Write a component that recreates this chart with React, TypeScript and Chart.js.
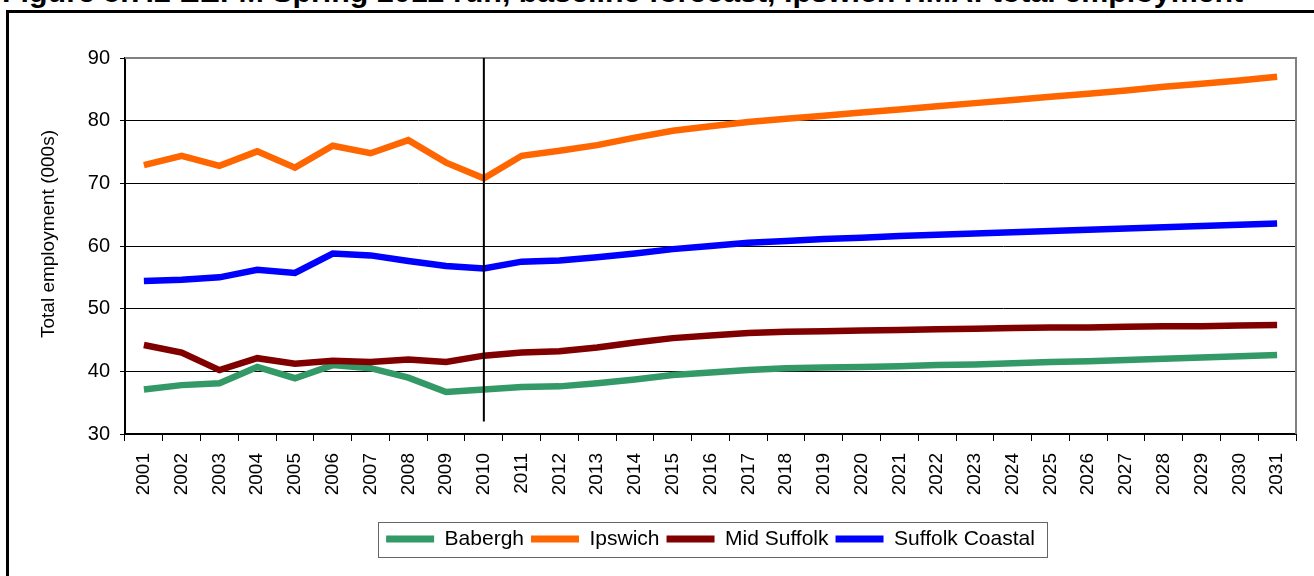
import React, { useEffect, useRef } from 'react';
import { Chart, registerables } from 'chart.js';

Chart.register(...registerables);

const years = [
  '2001', '2002', '2003', '2004', '2005', '2006', '2007', '2008', '2009', '2010',
  '2011', '2012', '2013', '2014', '2015', '2016', '2017', '2018', '2019', '2020',
  '2021', '2022', '2023', '2024', '2025', '2026', '2027', '2028', '2029', '2030', '2031',
];

const babergh = [
  37.1, 37.8, 38.1, 40.7, 38.9, 41.0, 40.5, 39.0, 36.7, 37.1,
  37.5, 37.6, 38.1, 38.7, 39.4, 39.8, 40.2, 40.5, 40.6, 40.7,
  40.8, 41.0, 41.1, 41.3, 41.5, 41.6, 41.8, 42.0, 42.2, 42.4, 42.6,
];

const ipswich = [
  72.9, 74.4, 72.8, 75.1, 72.5, 76.0, 74.8, 76.9, 73.3, 70.8,
  74.4, 75.2, 76.1, 77.3, 78.4, 79.1, 79.8, 80.3, 80.8, 81.3,
  81.8, 82.3, 82.8, 83.3, 83.8, 84.3, 84.8, 85.4, 85.9, 86.4, 87.0,
];

const midSuffolk = [
  44.2, 43.0, 40.2, 42.1, 41.2, 41.7, 41.5, 41.9, 41.5, 42.5,
  43.0, 43.2, 43.8, 44.6, 45.3, 45.7, 46.1, 46.3, 46.4, 46.5,
  46.6, 46.7, 46.8, 46.9, 47.0, 47.0, 47.1, 47.2, 47.2, 47.3, 47.4,
];

const suffolkCoastal = [
  54.4, 54.6, 55.0, 56.2, 55.7, 58.8, 58.5, 57.6, 56.8, 56.4,
  57.5, 57.7, 58.2, 58.8, 59.5, 60.0, 60.5, 60.8, 61.1, 61.3,
  61.6, 61.8, 62.0, 62.2, 62.4, 62.6, 62.8, 63.0, 63.2, 63.4, 63.6,
];

const seriesNames = ['Babergh', 'Ipswich', 'Mid Suffolk', 'Suffolk Coastal'];
const seriesColors = ['#339966', '#FF6600', '#800000', '#0000FF'];
const seriesValues = [babergh, ipswich, midSuffolk, suffolkCoastal];

const yMin = 30;
const yMax = 90;
const yStep = 10;
const yTitle = 'Total employment (000s)';
const figureTitle =
  'Figure 5.7.2 EEFM Spring 2012 run, baseline forecast, Ipswich HMA: total employment';

const dividerYear = '2010';
const dividerTop = 90;
const dividerBottom = 32;

const FONT = '"Liberation Sans", Arial, Helvetica, sans-serif';

const decorPlugin = {
  id: 'decor',
  beforeDatasetsDraw(chart: any) {
    const { ctx, chartArea } = chart;
    const { left, right, top, bottom } = chartArea;
    ctx.save();
    ctx.strokeStyle = '#808080';
    ctx.lineWidth = 2;
    ctx.beginPath();
    ctx.moveTo(left, top);
    ctx.lineTo(right, top);
    ctx.lineTo(right, bottom);
    ctx.stroke();
    ctx.restore();
  },
  afterDatasetsDraw(chart: any) {
    const { ctx } = chart;
    const xs = chart.scales.x;
    const ys = chart.scales.y;
    const x = xs.getPixelForValue(years.indexOf(dividerYear));
    const y1 = ys.getPixelForValue(dividerTop);
    const y2 = ys.getPixelForValue(dividerBottom);
    ctx.save();
    ctx.strokeStyle = '#000';
    ctx.lineWidth = 2;
    ctx.beginPath();
    ctx.moveTo(x, y1);
    ctx.lineTo(x, y2);
    ctx.stroke();
    ctx.restore();
  },
  afterDraw(chart: any) {
    const { ctx } = chart;
    const lg = chart.legend;
    if (lg && lg.legendHitBoxes && lg.legendHitBoxes.length) {
      const hb = lg.legendHitBoxes;
      let l = Infinity, r = -Infinity, t = Infinity, b = -Infinity;
      hb.forEach((h: any) => {
        l = Math.min(l, h.left);
        r = Math.max(r, h.left + h.width);
        t = Math.min(t, h.top);
        b = Math.max(b, h.top + h.height);
      });
      ctx.save();
      ctx.strokeStyle = '#666';
      ctx.lineWidth = 1;
      ctx.strokeRect(Math.round(l - 8) + 0.5, Math.round(t - 7) + 0.5, Math.round(r - l + 20), Math.round(b - t + 14));
      ctx.restore();
    }
    const ys = chart.scales.y;
    ctx.save();
    ctx.fillStyle = '#000';
    ctx.font = `19px ${FONT}`;
    ctx.textAlign = 'center';
    ctx.textBaseline = 'middle';
    ctx.translate(49, (ys.top + ys.bottom) / 2 - 12);
    ctx.rotate(-Math.PI / 2);
    ctx.fillText(yTitle, 0, 0);
    ctx.restore();
  },
};

export default function App() {
  const canvasRef = useRef<HTMLCanvasElement | null>(null);

  useEffect(() => {
    if (!canvasRef.current) return;
    Chart.defaults.font.family = FONT;
    Chart.defaults.color = '#000';
    const chart = new Chart(canvasRef.current, {
      type: 'line',
      data: {
        labels: years,
        datasets: seriesValues.map((vals, i) => ({
          label: seriesNames[i],
          data: vals,
          borderColor: seriesColors[i],
          backgroundColor: seriesColors[i],
          borderWidth: 6.5,
          pointRadius: 0,
          pointHoverRadius: 0,
          tension: 0,
          fill: false,
          borderJoinStyle: 'miter' as const,
          borderCapStyle: 'butt' as const,
          order: seriesNames.length - i,
        })),
      },
      options: {
        responsive: false,
        animation: false,
        layout: { padding: { top: 58, left: 0, right: 18, bottom: 16.5 } },
        plugins: {
          title: { display: false },
          tooltip: { enabled: false },
          legend: {
            position: 'bottom',
            fullSize: false,
            labels: {
              boxWidth: 48,
              boxHeight: 7,
              padding: 7,
              color: '#000',
              font: { size: 21, family: FONT },
              generateLabels: (c: any) =>
                c.data.datasets.map((ds: any, i: number) => ({
                  text: ds.label,
                  fillStyle: ds.borderColor,
                  strokeStyle: ds.borderColor,
                  lineWidth: 0,
                  hidden: false,
                  datasetIndex: i,
                  fontColor: '#000',
                })),
            },
          },
        },
        scales: {
          x: {
            type: 'category',
            offset: true,
            grid: { offset: true, drawOnChartArea: false, tickLength: 7, color: '#000', lineWidth: 1 },
            border: { color: '#000', width: 2 },
            ticks: {
              autoSkip: false,
              minRotation: 90,
              maxRotation: 90,
              padding: 12,
              color: '#000',
              font: { size: 19, family: FONT },
            },
            afterFit: (s: any) => {
              s.height = 87.5;
            },
          },
          y: {
            min: yMin,
            max: yMax,
            ticks: { stepSize: yStep, padding: 10, color: '#000', font: { size: 20, family: FONT } },
            grid: { color: '#000', lineWidth: 1, tickLength: 5 },
            border: { color: '#000', width: 2 },
            afterFit: (s: any) => {
              s.width = 125;
            },
          },
        },
      },
      plugins: [decorPlugin],
    } as any);
    return () => chart.destroy();
  }, []);

  return (
    <div
      style={{
        position: 'fixed',
        left: 0,
        top: 0,
        width: 1314,
        height: 576,
        overflow: 'hidden',
        background: '#fff',
      }}
    >
      <div
        style={{
          position: 'absolute',
          left: 2,
          top: -24,
          fontFamily: FONT,
          fontWeight: 'bold',
          fontSize: 30.4,
          lineHeight: 1,
          whiteSpace: 'nowrap',
          color: '#000',
        }}
      >
        {figureTitle}
      </div>
      <div
        style={{
          position: 'absolute',
          left: 6,
          top: 10,
          width: 1400,
          height: 700,
          border: '3px solid #000',
        }}
      />
      <canvas
        ref={canvasRef}
        width={1314}
        height={576}
        style={{ position: 'absolute', left: 0, top: 0, width: 1314, height: 576, display: 'block' }}
      />
    </div>
  );
}
